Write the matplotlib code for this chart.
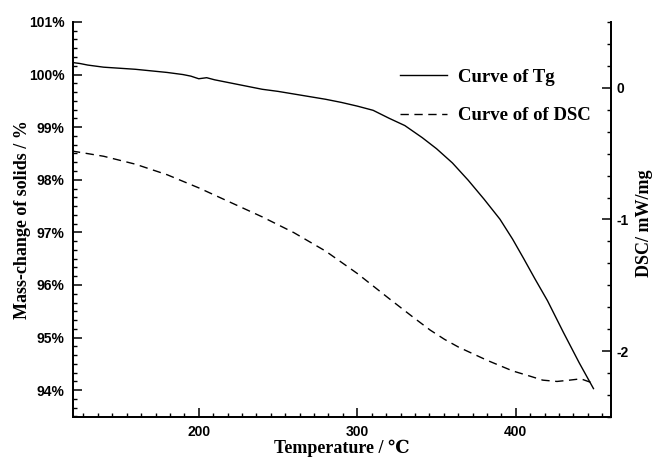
import matplotlib
matplotlib.use("Agg")
import matplotlib.pyplot as plt
from matplotlib.ticker import AutoMinorLocator

# Mass-change (TG) curve, left axis, %
tg_temp = [120, 125, 130, 140, 150, 160, 170, 180, 190, 195, 200, 205, 210, 220,
           230, 240, 250, 260, 270, 280, 290, 300, 310, 314, 320, 330, 341, 350,
           360, 370, 380, 390, 398, 405, 412, 420, 430, 440, 449]
tg_mass = [100.23, 100.21, 100.18, 100.14, 100.12, 100.10, 100.07, 100.04, 100.00,
           99.97, 99.92, 99.94, 99.90, 99.84, 99.78, 99.72, 99.68, 99.63, 99.58,
           99.53, 99.47, 99.40, 99.32, 99.26, 99.17, 99.03, 98.80, 98.59, 98.32,
           97.99, 97.63, 97.25, 96.87, 96.50, 96.12, 95.70, 95.10, 94.52, 94.03]

# DSC curve, right axis, mW/mg
dsc_temp = [120, 140, 160, 180, 200, 220, 240, 260, 280, 300, 320, 335, 346, 355,
            364, 373, 382, 390, 398, 409, 417, 426, 434, 441, 448]
dsc_val = [-0.48, -0.52, -0.58, -0.66, -0.76, -0.87, -0.98, -1.10, -1.24, -1.41,
           -1.60, -1.74, -1.84, -1.91, -1.97, -2.02, -2.07, -2.11, -2.15, -2.19,
           -2.22, -2.23, -2.22, -2.21, -2.24]

x_ticks = [200, 300, 400]
left_ticks = [94, 95, 96, 97, 98, 99, 100, 101]
right_ticks = [-2, -1, 0]

tick_font = {"family": "Liberation Sans", "weight": "bold", "size": 10}
label_font = {"family": ["Liberation Serif", "DejaVu Serif"], "weight": "bold", "size": 13}

fig = plt.figure(figsize=(6.52, 4.57), dpi=100)
ax = fig.add_axes([0.112, 0.0875, 0.825, 0.8645])
ax2 = ax.twinx()

ln1, = ax.plot(tg_temp, tg_mass, color="black", lw=1.0, label="Curve of Tg")
ln2, = ax2.plot(dsc_temp, dsc_val, color="black", lw=1.0, ls=(0, (6, 4)),
                label="Curve of of DSC")

ax.set_xlim(120.7, 460)
ax.set_ylim(93.49, 101)
ax2.set_ylim(-2.5, 0.5)

ax.set_xticks(x_ticks)
ax.set_xticklabels([str(t) for t in x_ticks], fontdict=tick_font)
ax.set_yticks(left_ticks)
ax.set_yticklabels([f"{t}%" for t in left_ticks], fontdict=tick_font)
ax2.set_yticks(right_ticks)
ax2.set_yticklabels([str(t) for t in right_ticks], fontdict=tick_font)

ax.xaxis.set_minor_locator(AutoMinorLocator(11))
ax.yaxis.set_minor_locator(AutoMinorLocator(6))
ax2.yaxis.set_minor_locator(AutoMinorLocator(6))

ax.tick_params(axis="x", which="both", direction="in", top=False, pad=6)
ax.tick_params(axis="y", which="both", direction="in", right=False, pad=6)
ax2.tick_params(axis="y", which="both", direction="in", pad=4)
for a in (ax, ax2):
    a.tick_params(which="major", length=6.5, width=1.1)
    a.tick_params(which="minor", length=3, width=1.0)
    a.spines["top"].set_visible(False)
    for s in ("left", "right", "bottom"):
        a.spines[s].set_linewidth(1.3)

ax.set_xlabel("Temperature / ℃", fontdict=label_font)
ax.xaxis.set_label_coords(0.5, -0.079)
ax.xaxis.label.set_va("center")
ax.set_ylabel("Mass-change of solids / %", fontdict=label_font)
ax.yaxis.set_label_coords(-0.093, 0.5)
ax.yaxis.label.set_va("center")
ax2.set_ylabel("DSC/ mW/mg", fontdict=label_font)
ax2.yaxis.set_label_coords(1.063, 0.49)
ax2.yaxis.label.set_va("center")

leg = ax.legend(handles=[ln1, ln2], loc="upper left", bbox_to_anchor=(0.608, 0.882),
                frameon=False, borderpad=0, borderaxespad=0, handlelength=2.5,
                handletextpad=0.6, labelspacing=1.15,
                prop={"family": "Liberation Serif", "weight": "bold", "size": 13.5})

fig.savefig("out.png", dpi=100)
